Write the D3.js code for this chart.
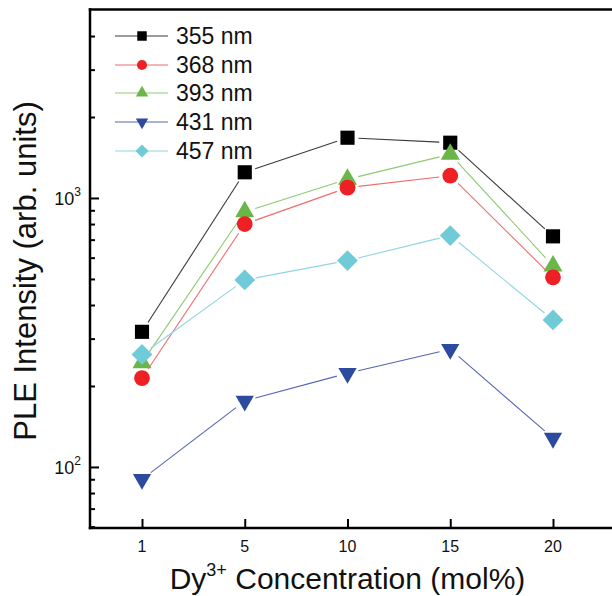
<!DOCTYPE html>
<html>
<head>
<meta charset="utf-8">
<script src="https://cdn.jsdelivr.net/npm/d3@7"></script>
<style>
  html, body { margin: 0; padding: 0; background: #fff; }
  svg { display: block; }
  text { font-family: "Liberation Sans", Arial, "DejaVu Sans", sans-serif; fill: #111; }
</style>
</head>
<body>
<svg id="chart" width="612" height="596"></svg>
<script>
// ---- data ----
const categories = ["1", "5", "10", "15", "20"];
const seriesNames = ["355 nm", "368 nm", "393 nm", "431 nm", "457 nm"];
const s355 = [318, 1246, 1675, 1605, 720];
const s368 = [214, 800, 1092, 1210, 507];
const s393 = [244, 889, 1174, 1454, 559];
const s431 = [90, 176, 223, 274, 128];
const s457 = [262, 496, 585, 725, 352];
const yDomain = [59.3, 5020];
const yMajorTicks = [100, 1000];
const yMajorExp = ["2", "3"];
const yMinorTicks = [60, 70, 80, 90, 200, 300, 400, 500, 600, 700, 800, 900, 2000, 3000, 4000];

(function () {
const seriesValues = [s355, s368, s393, s431, s457];
const markerColors = ["#000000", "#ee2024", "#6ab648", "#2d4b9e", "#6ecbd7"];
const lineColors = ["#3a3a3a", "#f26b6b", "#8ccb6e", "#5566b0", "#8fd6e0"];
const shapes = ["square", "circle", "triangle", "down", "diamond"];

const svg = d3.select("#chart");
const pLeft = 90, pBottom = 528, pTop = 9.5, pRight = 616;

const x = d3.scalePoint().domain(categories).range([142, 553]);
const y = d3.scaleLog().domain(yDomain).range([pBottom, pTop]);

function symbolPath(shape, big) {
  switch (shape) {
    case "square": return d3.symbol(d3.symbolSquare, big ? 200 : 90)();
    case "circle": return d3.symbol(d3.symbolCircle, big ? 195 : 80)();
    case "triangle": return d3.symbol(d3.symbolTriangle, big ? 158 : 66)();
    case "down": return d3.symbol(d3.symbolTriangle, big ? 145 : 66)();
    case "diamond": return d3.symbol(d3.symbolSquare, big ? 215 : 85)();
  }
}
function symbolTransform(shape, px, py) {
  let t = `translate(${px},${py})`;
  if (shape === "down") t += " rotate(180)";
  if (shape === "diamond") t += " rotate(45)";
  return t;
}

// ---- lines with gaps ----
const gap = 11;
seriesValues.forEach((vals, si) => {
  const g = svg.append("g");
  for (let i = 0; i < vals.length - 1; i++) {
    const x1 = x(categories[i]), y1 = y(vals[i]);
    const x2 = x(categories[i + 1]), y2 = y(vals[i + 1]);
    const dx = x2 - x1, dy = y2 - y1, len = Math.hypot(dx, dy);
    if (len <= 2 * gap) continue;
    const ux = dx / len, uy = dy / len;
    g.append("line")
      .attr("x1", x1 + ux * gap).attr("y1", y1 + uy * gap)
      .attr("x2", x2 - ux * gap).attr("y2", y2 - uy * gap)
      .attr("stroke", lineColors[si]).attr("stroke-width", 1.1);
  }
});

// ---- markers ----
const drawOrder = [0, 2, 1, 3, 4];
drawOrder.forEach(si => {
  const vals = seriesValues[si];
  svg.append("g").selectAll("path").data(vals).join("path")
    .attr("d", symbolPath(shapes[si], true))
    .attr("transform", (d, i) => symbolTransform(shapes[si], x(categories[i]), y(d)))
    .attr("fill", markerColors[si]);
});

// ---- frame ----
svg.append("line").attr("x1", pLeft).attr("x2", pLeft).attr("y1", pTop - 1.2).attr("y2", pBottom + 1.2)
  .attr("stroke", "#000").attr("stroke-width", 2.5);
svg.append("line").attr("x1", pLeft - 1.2).attr("x2", pRight).attr("y1", pBottom).attr("y2", pBottom)
  .attr("stroke", "#000").attr("stroke-width", 2.5);
svg.append("line").attr("x1", pLeft - 1.2).attr("x2", pRight).attr("y1", pTop).attr("y2", pTop)
  .attr("stroke", "#000").attr("stroke-width", 2.5);

// ---- y axis ticks (inward) ----
const yAxisMajor = d3.axisRight(y).tickValues(yMajorTicks).tickSize(9).tickFormat("");
const yAxisMinor = d3.axisRight(y).tickValues(yMinorTicks).tickSize(5).tickFormat("");
[yAxisMajor, yAxisMinor].forEach(ax => {
  const g = svg.append("g").attr("transform", `translate(${pLeft},0)`).call(ax);
  g.select(".domain").remove();
  g.selectAll(".tick line").attr("stroke", "#000").attr("stroke-width", 2);
});
yMajorTicks.forEach((v, i) => {
  const t = svg.append("text").attr("x", 81).attr("y", y(v) + 7)
    .attr("text-anchor", "end").attr("font-size", 18);
  t.append("tspan").text("10");
  t.append("tspan").attr("dy", -9).attr("font-size", 12).text(yMajorExp[i]);
});

// ---- x axis ticks (inward) ----
const xAxis = d3.axisTop(x).tickSize(9).tickFormat("");
const gx = svg.append("g").attr("transform", `translate(0,${pBottom})`).call(xAxis);
gx.select(".domain").remove();
gx.selectAll(".tick line").attr("stroke", "#000").attr("stroke-width", 2);
svg.append("g").selectAll("text").data(categories).join("text")
  .attr("x", d => x(d)).attr("y", 552)
  .attr("text-anchor", "middle").attr("font-size", 16)
  .text(d => d);

// ---- axis titles ----
const xt = svg.append("text").attr("x", 347.5).attr("y", 589).attr("text-anchor", "middle")
  .attr("font-size", 30);
xt.append("tspan").text("Dy");
xt.append("tspan").attr("dy", -13).attr("font-size", 18).text("3+");
xt.append("tspan").attr("dy", 13).text(" Concentration (mol%)");

svg.append("text").attr("transform", "translate(36,271) rotate(-90)")
  .attr("text-anchor", "middle").attr("font-size", 31)
  .text("PLE Intensity (arb. units)");

// ---- legend ----
const legendY = [36, 65, 93, 122, 151];
seriesNames.forEach((name, si) => {
  const g = svg.append("g").attr("transform", `translate(0,${legendY[si]})`);
  g.append("line").attr("x1", 115).attr("x2", 168).attr("y1", 0).attr("y2", 0)
    .attr("stroke", lineColors[si]).attr("stroke-width", 1.1);
  g.append("path").attr("d", symbolPath(shapes[si], false))
    .attr("transform", symbolTransform(shapes[si], 142, 0))
    .attr("fill", markerColors[si]);
  g.append("text").attr("x", 176).attr("y", 8).attr("font-size", 23).text(name);
});
})();
</script>
</body>
</html>
